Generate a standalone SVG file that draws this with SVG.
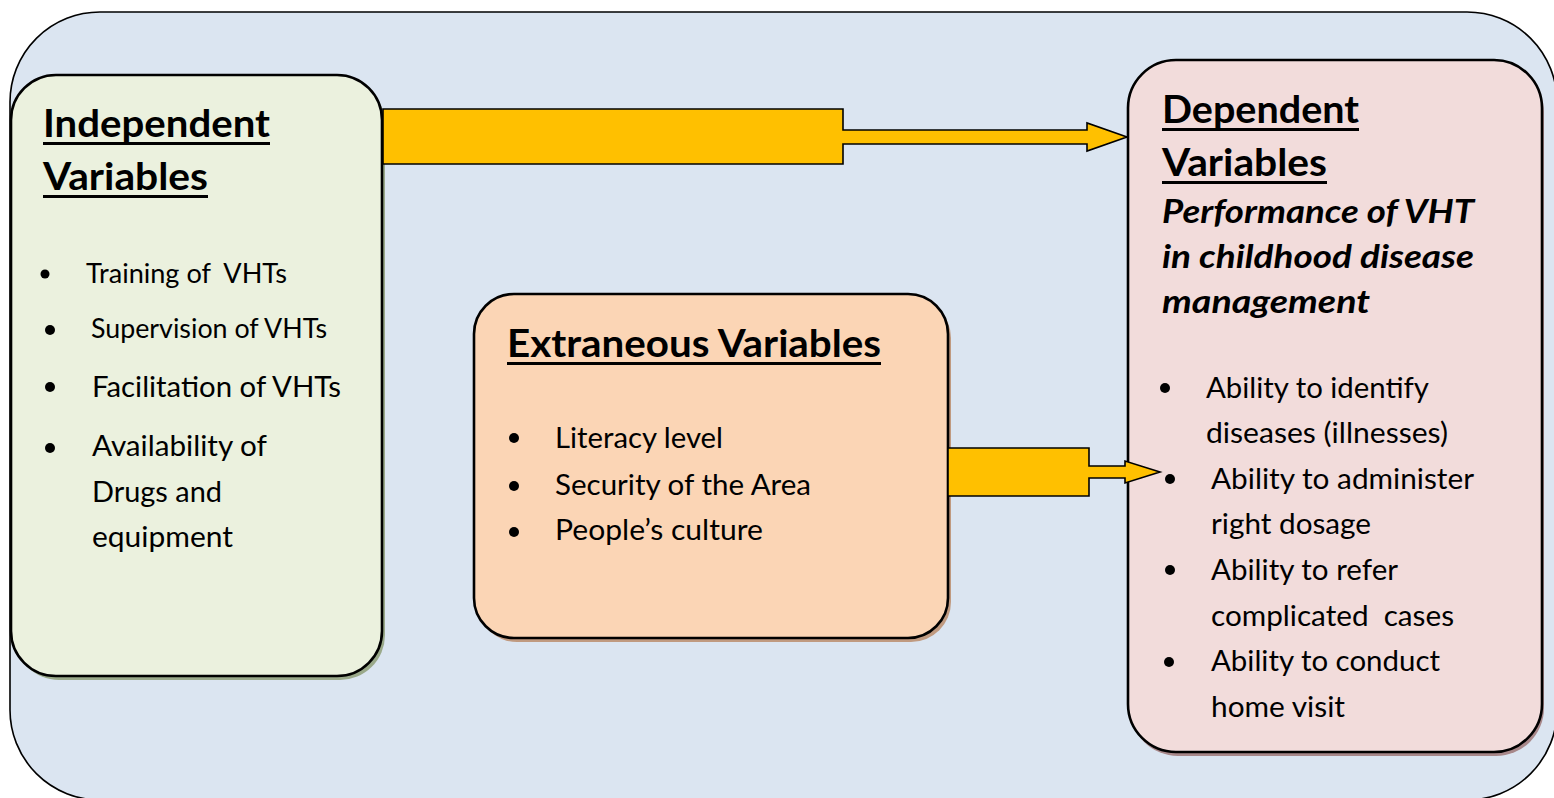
<svg xmlns="http://www.w3.org/2000/svg" width="1554" height="798" viewBox="0 0 1554 798">
  <style>
    .frame { fill: #dbe5f1; stroke: #000; stroke-width: 1.6; }
    .box { stroke: #000; stroke-width: 2.6; }
    .arrow { fill: #ffc000; stroke: #000; stroke-width: 1.6; stroke-linejoin: miter; }
    text { font-family: Lato, "Noto Sans", "Liberation Sans", sans-serif; fill: #000; }
    .head { font-size: 38px; font-weight: 700; }
    .sub { font-size: 33px; font-weight: 700; font-style: italic; }
    .item { font-size: 29px; }
    .item-sm { font-size: 26px; }
    .dot { fill: #000; }
    .uline { fill: #000; }
  </style>

  <!-- outer frame -->
  <rect class="frame" x="10" y="12" width="1547" height="788" rx="90" ry="90"/>

  <!-- Independent variables -->
  <g id="independent">
    <rect x="14" y="79" width="371" height="601" rx="45" fill="#9aa98a"/>
    <rect class="box" x="11" y="75" width="371" height="601" rx="45" fill="#ebf1de"/>
    <text class="head" x="43" y="137" textLength="227" lengthAdjust="spacingAndGlyphs">Independent</text>
    <rect class="uline" x="43" y="142" width="227" height="3"/>
    <text class="head" x="43" y="190" textLength="165" lengthAdjust="spacingAndGlyphs">Variables</text>
    <rect class="uline" x="43" y="195" width="165" height="3"/>
    <circle class="dot" cx="45" cy="274" r="4.5"/>
    <text class="item-sm" x="86" y="283" textLength="201" lengthAdjust="spacingAndGlyphs" xml:space="preserve">Training of  VHTs</text>
    <circle class="dot" cx="50" cy="330" r="5"/>
    <text class="item-sm" x="91" y="338" textLength="236" lengthAdjust="spacingAndGlyphs">Supervision of VHTs</text>
    <circle class="dot" cx="50" cy="387" r="5"/>
    <text class="item" x="92" y="397" textLength="249" lengthAdjust="spacingAndGlyphs">Facilitation of VHTs</text>
    <circle class="dot" cx="50" cy="448" r="5"/>
    <text class="item" x="92" y="456" textLength="175" lengthAdjust="spacingAndGlyphs">Availability of</text>
    <text class="item" x="92" y="502" textLength="130" lengthAdjust="spacingAndGlyphs">Drugs and</text>
    <text class="item" x="92" y="547" textLength="141" lengthAdjust="spacingAndGlyphs">equipment</text>
  </g>

  <!-- Extraneous variables -->
  <g id="extraneous">
    <rect x="477" y="298" width="474" height="344" rx="40" fill="#c09a80"/>
    <rect class="box" x="474" y="294" width="474" height="344" rx="40" fill="#fbd5b5"/>
    <text class="head" x="507" y="357" textLength="374" lengthAdjust="spacingAndGlyphs">Extraneous Variables</text>
    <rect class="uline" x="507" y="362" width="374" height="3"/>
    <circle class="dot" cx="514" cy="438" r="5"/>
    <text class="item" x="555" y="448" textLength="168" lengthAdjust="spacingAndGlyphs">Literacy level</text>
    <circle class="dot" cx="514" cy="486" r="5"/>
    <text class="item" x="555" y="495" textLength="256" lengthAdjust="spacingAndGlyphs">Security of the Area</text>
    <circle class="dot" cx="514" cy="532" r="5"/>
    <text class="item" x="555" y="540" textLength="208" lengthAdjust="spacingAndGlyphs">People’s culture</text>
  </g>

  <!-- Dependent variables -->
  <g id="dependent">
    <rect x="1130" y="64" width="414" height="692" rx="48" fill="#a8888a"/>
    <rect class="box" x="1128" y="60" width="414" height="692" rx="48" fill="#f2dcdb"/>
    <text class="head" x="1162" y="123" textLength="197" lengthAdjust="spacingAndGlyphs">Dependent</text>
    <rect class="uline" x="1162" y="128" width="197" height="3"/>
    <text class="head" x="1162" y="176" textLength="165" lengthAdjust="spacingAndGlyphs">Variables</text>
    <rect class="uline" x="1162" y="181" width="165" height="3"/>
    <text class="sub" x="1162" y="223" textLength="312" lengthAdjust="spacingAndGlyphs">Performance of VHT</text>
    <text class="sub" x="1162" y="268" textLength="312" lengthAdjust="spacingAndGlyphs">in childhood disease</text>
    <text class="sub" x="1162" y="313" textLength="208" lengthAdjust="spacingAndGlyphs">management</text>
    <circle class="dot" cx="1165" cy="388" r="5"/>
    <text class="item" x="1206" y="398" textLength="223" lengthAdjust="spacingAndGlyphs">Ability to identify</text>
    <text class="item" x="1206" y="443" textLength="242" lengthAdjust="spacingAndGlyphs">diseases (illnesses)</text>
    <circle class="dot" cx="1170" cy="479" r="5"/>
    <text class="item" x="1211" y="489" textLength="263" lengthAdjust="spacingAndGlyphs">Ability to administer</text>
    <text class="item" x="1211" y="534" textLength="160" lengthAdjust="spacingAndGlyphs">right dosage</text>
    <circle class="dot" cx="1170" cy="570" r="5"/>
    <text class="item" x="1211" y="580" textLength="187" lengthAdjust="spacingAndGlyphs">Ability to refer</text>
    <text class="item" x="1211" y="626" textLength="243" lengthAdjust="spacingAndGlyphs" xml:space="preserve">complicated  cases</text>
    <circle class="dot" cx="1169" cy="662" r="5"/>
    <text class="item" x="1211" y="671" textLength="229" lengthAdjust="spacingAndGlyphs">Ability to conduct</text>
    <text class="item" x="1211" y="717" textLength="134" lengthAdjust="spacingAndGlyphs">home visit</text>
  </g>

  <!-- connectors: block arrows into the dependent box -->
  <g id="connectors">
    <polygon class="arrow" points="383,109 843,109 843,130 1087,130 1087,123 1127,137 1087,151 1087,144 843,144 843,164 383,164"/>
    <polygon class="arrow" points="948,448 1089,448 1089,466 1125,466 1125,461 1160,472 1125,483 1125,478 1089,478 1089,496 948,496"/>
  </g>
</svg>
